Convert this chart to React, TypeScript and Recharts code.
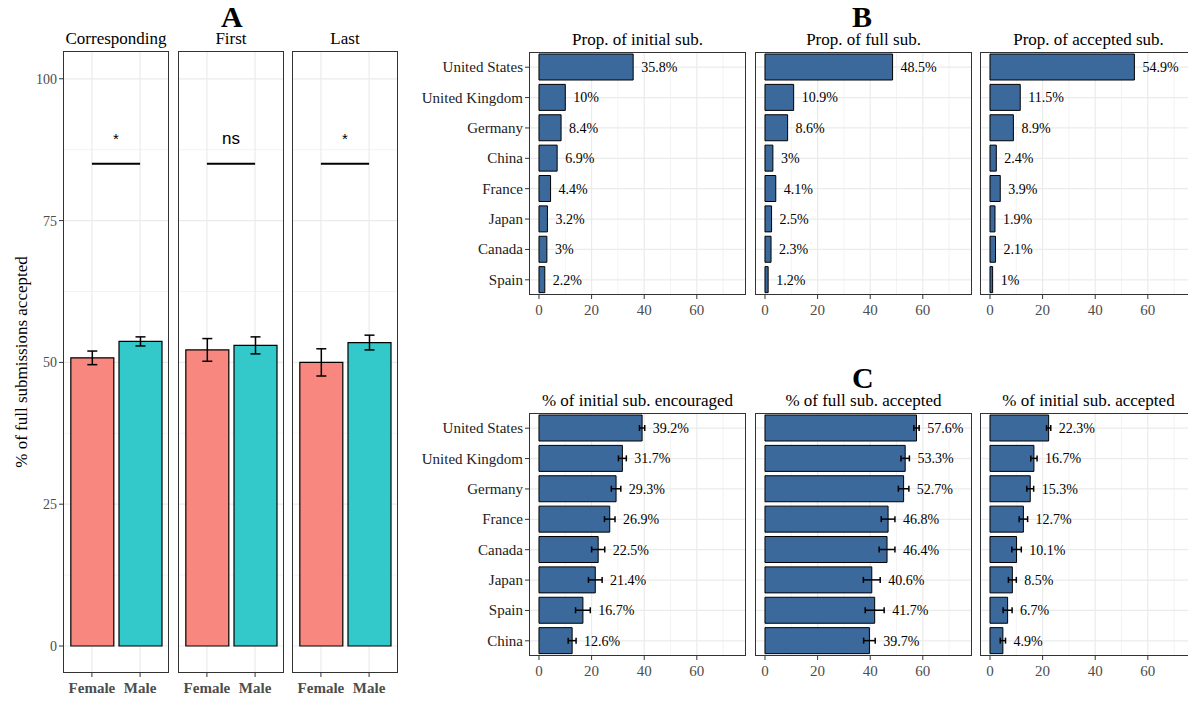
import React from 'react';
import { BarChart, Bar, XAxis, YAxis, ReferenceLine, ErrorBar, LabelList, Cell } from 'recharts';

const countriesB = ['United States', 'United Kingdom', 'Germany', 'China', 'France', 'Japan', 'Canada', 'Spain'];
const propInitial = [35.8, 10, 8.4, 6.9, 4.4, 3.2, 3, 2.2];
const propFull = [48.5, 10.9, 8.6, 3, 4.1, 2.5, 2.3, 1.2];
const propAccepted = [54.9, 11.5, 8.9, 2.4, 3.9, 1.9, 2.1, 1];

const countriesC = ['United States', 'United Kingdom', 'Germany', 'France', 'Canada', 'Japan', 'Spain', 'China'];
const encouraged = [39.2, 31.7, 29.3, 26.9, 22.5, 21.4, 16.7, 12.6];
const encouragedErr = [1, 1.5, 1.8, 2, 2.5, 2.6, 2.8, 1.5];
const fullAccepted = [57.6, 53.3, 52.7, 46.8, 46.4, 40.6, 41.7, 39.7];
const fullAcceptedErr = [1, 1.6, 2, 2.6, 3, 3.2, 3.6, 2.2];
const initAccepted = [22.3, 16.7, 15.3, 12.7, 10.1, 8.5, 6.7, 4.9];
const initAcceptedErr = [0.8, 1.2, 1.3, 1.6, 1.8, 1.5, 1.7, 1];

const genders = ['Female', 'Male'];
const facetsA = ['Corresponding', 'First', 'Last'];
const acceptedA = [[50.8, 53.7], [52.2, 53.0], [50.0, 53.5]];
const acceptedAErr = [[1.2, 0.8], [2.0, 1.5], [2.4, 1.3]];
const sigA = ['*', 'ns', '*'];

const SERIF = '"Liberation Serif", "DejaVu Serif", serif';
const BLUE = '#3B699C';
const GENDER_COLORS = ['#F8877F', '#33C9CB'];
const GRID = '#EBEBEB';
const abs = { position: 'absolute' as const, left: 0, top: 0 };

const makeTick = (kind: 'x' | 'y', size: number, fill: string, bold = false, fmt?: (v: any) => string) => (p: any) => {
  const v = fmt ? fmt(p.payload.value) : String(p.payload.value);
  if (kind === 'x') {
    return <text x={p.x} y={p.y} dy={14} textAnchor="middle" fontFamily={SERIF} fontSize={size} fontWeight={bold ? 'bold' : 'normal'} fill={fill}>{v}</text>;
  }
  return <text x={p.x} y={p.y} dy={5} textAnchor="end" fontFamily={SERIF} fontSize={size} fill={fill}>{v}</text>;
};

function HFacet({ left, top, w, h, yw, cats, vals, errs, title }: any) {
  const data = cats.map((c: string, i: number) => ({ c, v: vals[i], e: errs ? errs[i] : 0 }));
  const labelContent = (p: any) => {
    const { x, y, width, height, index } = p;
    const d = data[index];
    const k = width / d.v;
    return (
      <text x={x + width + d.e * k + 8} y={y + height / 2} dy={5} fontFamily={SERIF} fontSize={14} fill="#000">
        {d.v + '%'}
      </text>
    );
  };
  const minor = [10, 30, 50, 70];
  const major = [0, 20, 40, 60];
  const chart = (layer: number) => (
    <div style={abs}>
      <BarChart width={w + yw} height={h + 30} data={data} layout="vertical" margin={{ top: 0, right: 0, bottom: 0, left: 0 }} barSize={26}>
        <XAxis type="number" dataKey="v" domain={[-3.8, 78.7]} ticks={major} allowDataOverflow
          axisLine={false} tickLine={layer === 0 ? { stroke: '#333' } : false} tickSize={4}
          tick={layer === 0 ? makeTick('x', 15, '#4d4d4d') : false} height={30} />
        <YAxis type="category" dataKey="c" width={yw} hide={yw === 0} axisLine={false}
          tickLine={layer === 0 ? { stroke: '#333' } : false} tickSize={4} interval={0}
          tick={layer === 0 ? makeTick('y', 15, '#222') : false} />
        {layer === 0 && minor.map((m) => <ReferenceLine key={'m' + m} x={m} stroke={GRID} strokeWidth={0.6} />)}
        {layer === 0 && major.map((m) => <ReferenceLine key={'M' + m} x={m} stroke={GRID} strokeWidth={1.2} />)}
        {layer === 0 && cats.map((c: string) => <ReferenceLine key={c} y={c} stroke={GRID} strokeWidth={1.2} />)}
        {layer === 1 && (
          <Bar dataKey="v" fill={BLUE} stroke="#000" strokeWidth={1} isAnimationActive={false}>
            {errs && <ErrorBar dataKey="e" direction="x" width={3} stroke="#000" strokeWidth={1.5} />}
            <LabelList dataKey="v" content={labelContent} />
          </Bar>
        )}
      </BarChart>
    </div>
  );
  return (
    <div style={{ position: 'absolute', left: left - yw, top, width: w + yw, height: h + 30 }}>
      <div style={{ position: 'absolute', left: yw - 10, top: -22, width: w + 20, textAlign: 'center', fontFamily: SERIF, fontSize: 17, color: '#000', whiteSpace: 'nowrap' }}>{title}</div>
      {chart(0)}
      {chart(1)}
      <div style={{ position: 'absolute', left: yw, top: 0, width: w, height: h, border: '1px solid #333', boxSizing: 'border-box', pointerEvents: 'none' }} />
    </div>
  );
}

function VFacet({ left, top, w, h, yw, fi }: any) {
  const data = genders.map((g, i) => ({ x: i + 1, g, v: acceptedA[fi][i], e: acceptedAErr[fi][i] }));
  const majors = [0, 25, 50, 75, 100];
  const minors = [12.5, 37.5, 62.5, 87.5];
  const chart = (layer: number) => (
    <div style={abs}>
      <BarChart width={w + yw} height={h + 34} data={data} margin={{ top: 0, right: 0, bottom: 0, left: 0 }} barSize={43}>
        <XAxis type="number" dataKey="x" domain={[0.4, 2.6]} ticks={[1, 2]} allowDataOverflow
          axisLine={false} tickLine={layer === 0 ? { stroke: '#333' } : false} tickSize={4}
          tick={layer === 0 ? makeTick('x', 15, '#4d4d4d', true, (v: number) => genders[v - 1]) : false} height={34} />
        <YAxis type="number" domain={[-4.76, 104.9]} ticks={majors} allowDataOverflow width={yw} hide={yw === 0}
          axisLine={false} tickLine={layer === 0 ? { stroke: '#333' } : false} tickSize={4}
          tick={layer === 0 ? makeTick('y', 14, '#4d4d4d') : false} />
        {layer === 0 && minors.map((m) => <ReferenceLine key={'m' + m} y={m} stroke={GRID} strokeWidth={0.6} />)}
        {layer === 0 && majors.map((m) => <ReferenceLine key={'M' + m} y={m} stroke={GRID} strokeWidth={1.2} />)}
        {layer === 0 && [1, 2].map((m) => <ReferenceLine key={'x' + m} x={m} stroke={GRID} strokeWidth={1.2} />)}
        {layer === 1 && (
          <Bar dataKey="v" stroke="#000" strokeWidth={1.2} isAnimationActive={false}>
            {data.map((d, i) => <Cell key={i} fill={GENDER_COLORS[i]} />)}
            <ErrorBar dataKey="e" direction="y" width={5} stroke="#000" strokeWidth={1.5} />
          </Bar>
        )}
        {layer === 1 && (
          <ReferenceLine segment={[{ x: 1, y: 85 }, { x: 2, y: 85 }]} stroke="#000" strokeWidth={2}
            label={{ value: sigA[fi], position: 'top', offset: 20, fontFamily: '"Liberation Sans", Arial, sans-serif', fontSize: sigA[fi] === 'ns' ? 17 : 15, fill: '#000' }} />
        )}
      </BarChart>
    </div>
  );
  return (
    <div style={{ position: 'absolute', left: left - yw, top, width: w + yw, height: h + 34 }}>
      <div style={{ position: 'absolute', left: yw - 10, top: -22, width: w + 20, textAlign: 'center', fontFamily: SERIF, fontSize: 17, color: '#000' }}>{facetsA[fi]}</div>
      {chart(0)}
      {chart(1)}
      <div style={{ position: 'absolute', left: yw, top: 0, width: w, height: h, border: '1px solid #333', boxSizing: 'border-box', pointerEvents: 'none' }} />
    </div>
  );
}

export default function App() {
  const big = { position: 'absolute' as const, fontFamily: SERIF, fontWeight: 'bold' as const, fontSize: 30, color: '#000' };
  return (
    <div style={{ position: 'fixed', left: 0, top: 0, width: 1188, height: 705, background: '#fff', overflow: 'hidden', fontFamily: SERIF }}>
      <div style={{ ...big, left: 221, top: 0 }}>A</div>
      <div style={{ ...big, left: 852, top: 0 }}>B</div>
      <div style={{ ...big, left: 852, top: 361 }}>C</div>
      <div style={{ position: 'absolute', left: 22, top: 362, transform: 'translate(-50%,-50%) rotate(-90deg)', fontFamily: SERIF, fontSize: 17, whiteSpace: 'nowrap' }}>% of full submissions accepted</div>
      <VFacet left={63} top={51} w={106} h={622} yw={63} fi={0} />
      <VFacet left={178} top={51} w={106} h={622} yw={0} fi={1} />
      <VFacet left={292} top={51} w={106} h={622} yw={0} fi={2} />

      <HFacet left={529} top={52} w={217} h={243} yw={112} cats={countriesB} vals={propInitial} title="Prop. of initial sub." />
      <HFacet left={755} top={52} w={217} h={243} yw={0} cats={countriesB} vals={propFull} title="Prop. of full sub." />
      <HFacet left={980} top={52} w={217} h={243} yw={0} cats={countriesB} vals={propAccepted} title="Prop. of accepted sub." />

      <HFacet left={529} top={413} w={217} h={243} yw={112} cats={countriesC} vals={encouraged} errs={encouragedErr} title="% of initial sub. encouraged" />
      <HFacet left={755} top={413} w={217} h={243} yw={0} cats={countriesC} vals={fullAccepted} errs={fullAcceptedErr} title="% of full sub. accepted" />
      <HFacet left={980} top={413} w={217} h={243} yw={0} cats={countriesC} vals={initAccepted} errs={initAcceptedErr} title="% of initial sub. accepted" />
    </div>
  );
}
